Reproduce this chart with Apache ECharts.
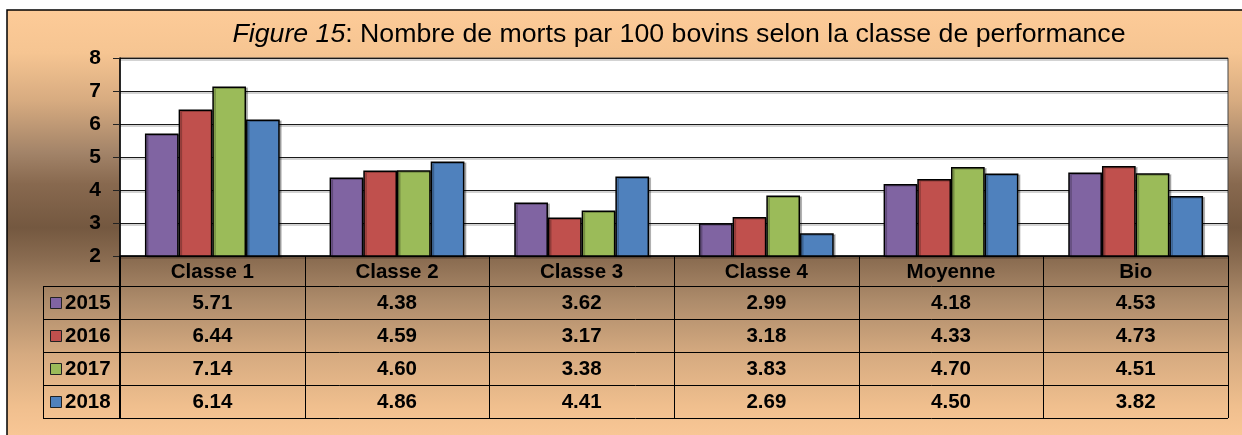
<!DOCTYPE html>
<html>
<head>
<meta charset="utf-8">
<script src="https://cdn.jsdelivr.net/npm/echarts@6/dist/echarts.min.js"></script>
<style>
  html, body { margin: 0; padding: 0; background: #fff; }
  #chart { width: 1242px; height: 435px; }
</style>
</head>
<body>
<div id="chart"></div>
<script>
// Categories and yearly values (deaths per 100 cattle)
const categories = ['Classe 1', 'Classe 2', 'Classe 3', 'Classe 4', 'Moyenne', 'Bio'];
const years = ['2015', '2016', '2017', '2018'];
const values2015 = [5.71, 4.38, 3.62, 2.99, 4.18, 4.53];
const values2016 = [6.44, 4.59, 3.17, 3.18, 4.33, 4.73];
const values2017 = [7.14, 4.60, 3.38, 3.83, 4.70, 4.51];
const values2018 = [6.14, 4.86, 4.41, 2.69, 4.50, 3.82];
const yMin = 2, yMax = 8, yStep = 1;

const seriesValues = [values2015, values2016, values2017, values2018];
const colors = ['#8064A2', '#C0504D', '#9BBB59', '#4F81BD'];
const FONT = '"Liberation Sans", Arial, sans-serif';
const TABLE_FONT_SIZE = 20.5;

const chart = echarts.init(document.getElementById('chart'), null, { renderer: 'canvas' });

// Layout of the plot area and the data table under it
const GRID = { left: 120, right: 14, top: 58, bottom: 179 };
const HEADER_H = 30;
const ROW_H = 33;
const LEGEND_LEFT = 43;

const option = {
  animation: false,
  title: {
    text: '{i|Figure 15}{n|: Nombre de morts par 100 bovins selon la classe de performance}',
    left: 674,
    top: 16,
    textAlign: 'center',
    textStyle: {
      fontWeight: 'normal',
      rich: {
        i: { fontStyle: 'italic', fontWeight: 'normal', fontSize: 26.7, fontFamily: FONT, color: '#000' },
        n: { fontWeight: 'normal', fontSize: 26.7, fontFamily: FONT, color: '#000' }
      }
    }
  },
  grid: {
    left: GRID.left, right: GRID.right, top: GRID.top, bottom: GRID.bottom,
    show: true, backgroundColor: '#fff', borderColor: '#444', borderWidth: 1
  },
  xAxis: {
    type: 'category',
    data: categories,
    axisLine: { show: true, lineStyle: { color: '#000', width: 1.5 } },
    axisTick: { show: false },
    axisLabel: {
      margin: 6,
      color: '#000',
      fontSize: TABLE_FONT_SIZE,
      fontWeight: 'bold',
      fontFamily: FONT
    }
  },
  yAxis: {
    type: 'value',
    min: yMin, max: yMax, interval: yStep,
    axisLine: { show: true, lineStyle: { color: '#000', width: 1.5 } },
    axisTick: { show: true, length: 7, lineStyle: { color: '#222', width: 1 } },
    axisLabel: {
      margin: 19,
      color: '#000',
      fontSize: 21,
      fontWeight: 'bold',
      fontFamily: FONT
    },
    splitLine: {
      show: true,
      lineStyle: { color: '#1a1a1a', width: 1, shadowColor: 'rgba(0,0,0,0.35)', shadowOffsetY: 1.5 }
    }
  },
  series: years.map((y, i) => ({
    name: y,
    type: 'bar',
    data: seriesValues[i],
    barGap: '0%',
    barCategoryGap: '27%',
    itemStyle: {
      color: colors[i],
      borderColor: '#000',
      borderWidth: 1.5,
      shadowColor: 'rgba(0,0,0,0.25)',
      shadowOffsetX: 2,
      shadowOffsetY: 1
    }
  }))
};

chart.setOption(option);

// Data table drawn under the category axis
const W = chart.getWidth(), H = chart.getHeight();
const plotLeft = GRID.left, plotRight = W - GRID.right;
const plotBottom = H - GRID.bottom;
const band = chart.convertToPixel({ xAxisIndex: 0 }, 1) - chart.convertToPixel({ xAxisIndex: 0 }, 0);
const tableTop = plotBottom;
const rowsTop = tableTop + HEADER_H;
const tableBottom = rowsTop + ROW_H * years.length;

const graphics = [];

// background panel with vertical gradient and frame
graphics.push({
  type: 'rect', z: -100, silent: true,
  shape: { x: 7, y: 10, width: W, height: H },
  style: {
    fill: new echarts.graphic.LinearGradient(0, 0, 0, 1, [
      { offset: 0.00, color: '#FDCB98' },
      { offset: 0.10, color: '#F6C592' },
      { offset: 0.21, color: '#D7AB80' },
      { offset: 0.33, color: '#A28368' },
      { offset: 0.40, color: '#88694F' },
      { offset: 0.50, color: '#745840' },
      { offset: 0.57, color: '#896B50' },
      { offset: 0.67, color: '#AE8C6B' },
      { offset: 0.79, color: '#D5AA80' },
      { offset: 0.91, color: '#F0BF8E' },
      { offset: 1.00, color: '#FBC998' }
    ]),
    stroke: '#000', lineWidth: 1.5
  }
});

function line(x1, y1, x2, y2, w) {
  graphics.push({
    type: 'line', z: 10, silent: true,
    shape: { x1, y1, x2, y2 },
    style: { stroke: '#000', lineWidth: w || 1 }
  });
}
function text(str, x, y, align) {
  graphics.push({
    type: 'text', z: 11, silent: true,
    x, y,
    style: {
      text: str, fill: '#000', fontSize: TABLE_FONT_SIZE, fontWeight: 'bold', fontFamily: FONT,
      align: align || 'center', verticalAlign: 'middle'
    }
  });
}

// horizontal rules
for (let r = 0; r <= years.length; r++) {
  const y = Math.round(rowsTop + r * ROW_H) + 0.5;
  line(LEGEND_LEFT, y, plotRight, y, 1);
}
// left edge of legend column
line(LEGEND_LEFT + 0.5, rowsTop, LEGEND_LEFT + 0.5, tableBottom, 1);
// value axis continues through the table
line(plotLeft, tableTop, plotLeft, tableBottom, 2);
// category boundaries
for (let c = 1; c <= categories.length; c++) {
  const x = Math.round(plotLeft + c * band) + 0.5;
  line(x, tableTop, x, tableBottom, 1);
}

// legend keys and values
years.forEach((yr, r) => {
  const cy = rowsTop + r * ROW_H + ROW_H / 2;
  graphics.push({
    type: 'rect', z: 11, silent: true,
    shape: { x: 50.5, y: Math.round(cy - 5.5) + 0.5, width: 11, height: 11 },
    style: { fill: colors[r], stroke: '#222', lineWidth: 1 }
  });
  text(yr, 65, cy + 1, 'left');
  seriesValues[r].forEach((v, c) => {
    const cx = chart.convertToPixel({ xAxisIndex: 0 }, c);
    text(v.toFixed(2), cx, cy + 1);
  });
});

chart.setOption({ graphic: graphics });
</script>
</body>
</html>
